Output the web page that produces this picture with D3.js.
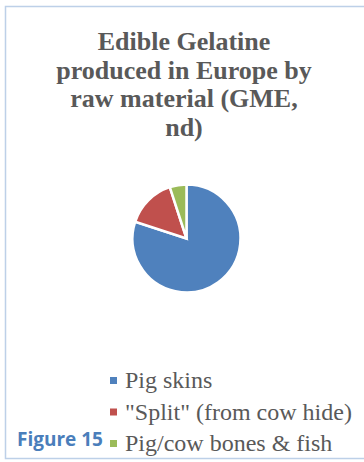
<!DOCTYPE html>
<html>
<head>
<meta charset="utf-8">
<script src="https://cdn.jsdelivr.net/npm/d3@7"></script>
<style>
  body { margin: 0; background: #fff; }
</style>
</head>
<body>
<div id="container"></div>
<script>
// Chart data
const categories = ["Pig skins", "\"Split\" (from cow hide)", "Pig/cow bones & fish"];
const shares = [80, 15, 5];
const colors = ["#4F81BD", "#C0504D", "#9BBB59"];
const titleLines = ["Edible Gelatine", "produced in Europe by", "raw material (GME,", "nd)"];

const width = 364, height = 462;
const serif = '"Liberation Serif", "Times New Roman", serif';

const svg = d3
  .select("#container")
  .append("svg")
  .attr("width", width)
  .attr("height", height)
  .style("display", "block");

// Chart area border (runs off the right edge)
svg
  .append("rect")
  .attr("x", 5.5)
  .attr("y", 6.5)
  .attr("width", 370)
  .attr("height", 452)
  .attr("fill", "none")
  .attr("stroke", "#BDD0E8")
  .attr("stroke-width", 1.5);

// Title
svg
  .append("text")
  .attr("text-anchor", "middle")
  .style("font-family", serif)
  .style("font-weight", "bold")
  .style("font-size", "26px")
  .attr("fill", "#595959")
  .selectAll("tspan")
  .data(titleLines)
  .enter()
  .append("tspan")
  .attr("x", 184)
  .attr("y", (d, i) => 50 + i * 28.5)
  .text((d) => d);

// Pie
const data = categories.map((c, i) => ({ name: c, value: shares[i], color: colors[i] }));
const pie = d3.pie().sort(null).value((d) => d.value);
const arc = d3.arc().innerRadius(0).outerRadius(54);

svg
  .append("g")
  .attr("transform", "translate(186.5,238.5)")
  .selectAll("path")
  .data(pie(data))
  .enter()
  .append("path")
  .attr("d", arc)
  .attr("fill", (d) => d.data.color)
  .attr("stroke", "#fff")
  .attr("stroke-width", 2.5);

// Legend
const legend = svg
  .append("g")
  .selectAll("g")
  .data(data)
  .enter()
  .append("g")
  .attr("transform", (d, i) => "translate(110," + (388 + i * 31.5) + ")");

legend
  .append("rect")
  .attr("x", 0)
  .attr("y", -11)
  .attr("width", 7)
  .attr("height", 7)
  .attr("fill", (d) => d.color);

legend
  .append("text")
  .attr("x", 15)
  .attr("y", 0)
  .style("font-family", serif)
  .style("font-size", "24px")
  .attr("fill", "#595959")
  .text((d) => d.name);

// Figure caption
svg
  .append("text")
  .attr("x", 17)
  .attr("y", 446)
  .style("font-family", '"Open Sans", sans-serif')
  .style("font-weight", "bold")
  .style("font-size", "19px")
  .attr("fill", "#4A7EBB")
  .text("Figure 15");
</script>
</body>
</html>
